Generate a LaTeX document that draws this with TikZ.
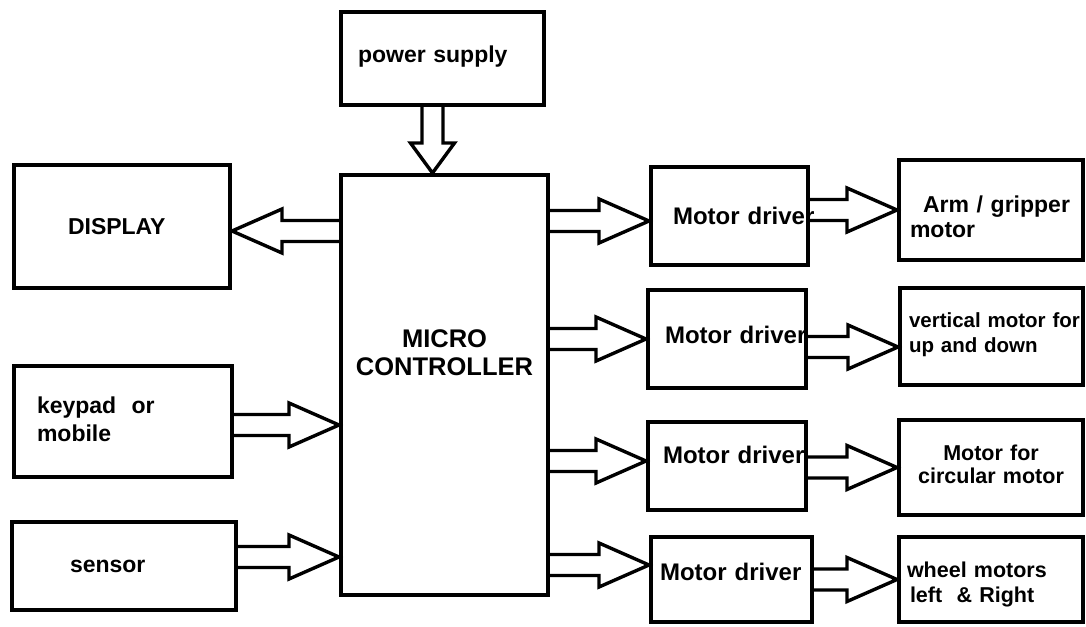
\documentclass[tikz,border=0pt]{standalone}
\usepackage{fontspec}
\setmainfont{Liberation Sans}[BoldFont={Liberation Sans Bold}]
\usetikzlibrary{calc}
\newcommand{\sidefont}{\bfseries\fontsize{11.5}{14}\selectfont}
\newcommand{\mcfont}{\bfseries\fontsize{12.75}{14}\selectfont}
\newcommand{\drvfont}{\bfseries\fontsize{12}{14}\selectfont}
\newcommand{\motfont}{\bfseries\fontsize{10.75}{12.5}\selectfont}
% hollow block arrow from #2 to #3, head length #1
\newcommand{\blockarrow}[3][25pt]{%
  \path (#2) coordinate (ba-s) (#3) coordinate (ba-t);
  \coordinate (ba-h) at ($(ba-t)!#1!(ba-s)$);
  \draw[fatarrow] ($(ba-s)!5.25pt!90:(ba-t)$) -- ($(ba-h)!5.25pt!90:(ba-t)$)
    -- ($(ba-h)!11pt!90:(ba-t)$) -- (ba-t) -- ($(ba-h)!11pt!-90:(ba-t)$)
    -- ($(ba-h)!5.25pt!-90:(ba-t)$) -- ($(ba-s)!5.25pt!-90:(ba-t)$);}
\tikzset{
  blockbox/.style={draw, line width=2pt, inner ysep=0pt},
  fatarrow/.style={line width=1.7pt, line join=miter},
}

\begin{document}
\begin{tikzpicture}[x=0.5pt,y=-0.5pt]
\useasboundingbox (0,0) rectangle (1086,626);
% left column and controller
\node[blockbox, font=\sidefont, align=left, text width=84.5pt, inner xsep=8.5pt, text height=25.5pt, text depth=21pt] (ps) at (442.5,58.5) {power supply};
\node[blockbox, font=\sidefont, align=left, text width=54pt, inner xsep=27pt, text height=34.5pt, text depth=27pt] (disp) at (122,226.5) {DISPLAY};
\node[blockbox, font=\mcfont, align=center, text width=93.5pt, inner xsep=5pt, text height=86pt, text depth=124pt] (mc) at (444.5,385) {MICRO\\CONTROLLER};
\node[blockbox, font=\sidefont, align=left, text width=86pt, inner xsep=11.5pt, text height=23.5pt, text depth=32pt] (kp) at (123,421.5) {keypad\ \ or\\mobile};
\node[blockbox, font=\sidefont, align=left, text width=54pt, inner xsep=29pt, text height=25pt, text depth=19pt] (sen) at (124,566) {sensor};
% motor drivers
\node[blockbox, font=\drvfont, align=left, text width=56.5pt, inner xsep=11pt, text height=28.5pt, text depth=20.5pt] (md1) at (729.5,216) {\mbox{Motor driver}};
\node[blockbox, font=\drvfont, align=left, text width=62pt, inner xsep=8.5pt, text height=26.5pt, text depth=22.5pt] (md2) at (727,339) {\mbox{Motor driver}};
\node[blockbox, font=\drvfont, align=left, text width=64pt, inner xsep=7.5pt, text height=20.5pt, text depth=23.5pt] (md3) at (727,466) {\mbox{Motor driver}};
\node[blockbox, font=\drvfont, align=left, text width=71.5pt, inner xsep=4.5pt, text height=21.5pt, text depth=21pt] (md4) at (731.5,579.5) {\mbox{Motor driver}};
% motors
\node[blockbox, font=\bfseries\fontsize{11.5}{13}\selectfont, align=left, text width=81pt, inner xsep=5.5pt, text height=26pt, text depth=24pt] (r1) at (991,210) {\hspace*{6.5pt}Arm / gripper\\motor};
\node[blockbox, font=\bfseries\fontsize{10.25}{12.5}\selectfont, align=left, text width=82.5pt, inner xsep=4.5pt, text height=19.5pt, text depth=29pt] (r2) at (991.5,336.5) {\mbox{vertical motor for}\\up and down};
\node[blockbox, font=\bfseries\fontsize{10.75}{11.5}\selectfont, align=center, text width=82pt, inner xsep=5pt, text height=20pt, text depth=27.5pt] (r3) at (991,467.5) {Motor for\\circular motor};
\node[blockbox, font=\motfont, align=left, text width=84pt, inner xsep=4pt, text height=20pt, text depth=22.5pt] (r4) at (991,579.5) {wheel motors\\\hspace*{1.5pt}left\ \ \& Right};
% arrows
\blockarrow[15pt]{$(ps.south)+(-5pt,0)$}{$(mc.north -| ps.south)+(-5pt,0)$}
\blockarrow{$(mc.west |- disp.east)+(0,-2.25pt)$}{$(disp.east)+(0,-2.25pt)$}
\blockarrow{$(kp.east)+(0,-1.75pt)$}{$(mc.west |- kp.east)+(0,-1.75pt)$}
\blockarrow{$(sen.east)+(0,4.5pt)$}{$(mc.west |- sen.east)+(0,4.5pt)$}
\blockarrow{$(mc.east |- md1.west)+(0,-2.5pt)$}{$(md1.west)+(0,-2.5pt)$}
\blockarrow{mc.east |- md2.west}{md2.west}
\blockarrow{$(mc.east |- md3.west)+(0,2.5pt)$}{$(md3.west)+(0,2.5pt)$}
\blockarrow{$(mc.east |- md4.west)+(0,7.25pt)$}{$(md4.west)+(0,7.25pt)$}
\blockarrow{md1.east |- r1.west}{r1.west}
\blockarrow{$(md2.east)+(0,-4pt)$}{$(r2.west |- md2.east)+(0,-4pt)$}
\blockarrow{md3.east |- r3.west}{r3.west}
\blockarrow{md4.east |- r4.west}{r4.west}
\end{tikzpicture}
\end{document}
